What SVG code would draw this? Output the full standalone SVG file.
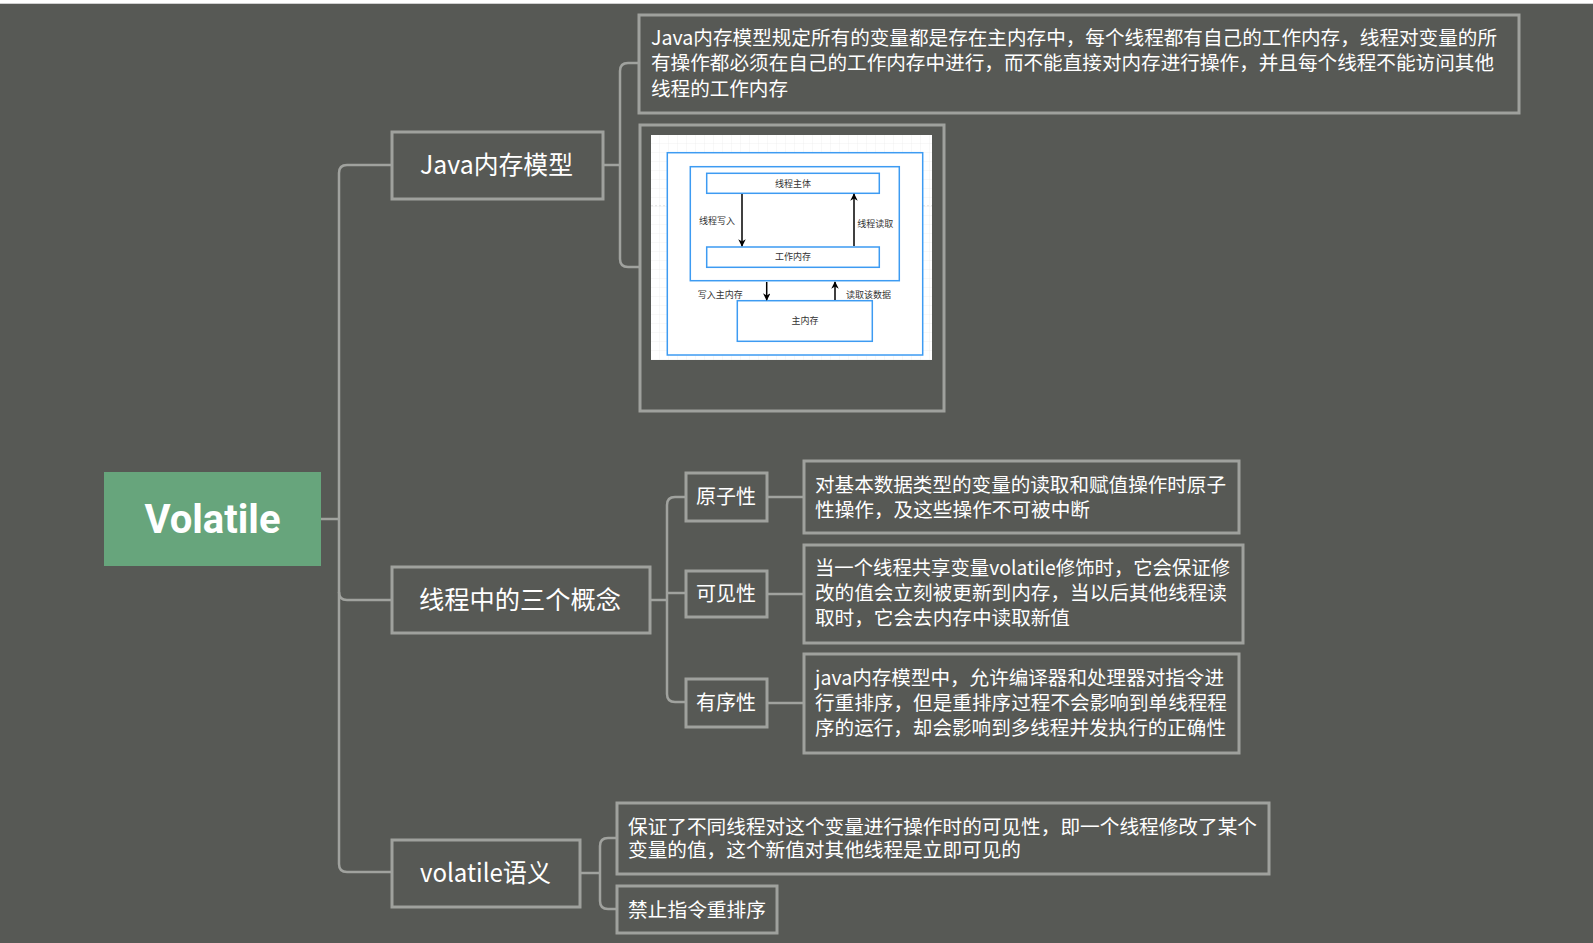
<svg xmlns="http://www.w3.org/2000/svg" width="1593" height="943" viewBox="0 0 1593 943">
<defs>
<style>
.bg{fill:#575955}
.box{fill:none;stroke:#9fa19d;stroke-width:3}
.con{fill:none;stroke:#a0a29e;stroke-width:2.5}
.t{font-family:"Noto Sans CJK SC","Liberation Sans",sans-serif;fill:#ffffff}
.l1{font-size:25px}
.l2{font-size:20px}
.leaf{font-size:19.5px}
.root{font-family:Roboto,"Liberation Sans",sans-serif;font-weight:bold;font-size:40px;fill:#ffffff;text-anchor:middle}
.db{fill:#ffffff;stroke:#3d9bf2;stroke-width:1.5}
.dt{font-family:"Noto Sans CJK SC",sans-serif;font-size:9px;fill:#333333}
.dl{stroke:#000000;stroke-width:1.5;fill:none}
.grid{stroke:#ececec;stroke-width:0.7}
</style>
<marker id="ah" viewBox="0 0 10 10" refX="9" refY="5" markerWidth="5" markerHeight="5" orient="auto">
<path d="M0,0 L10,5 L0,10 L3,5 Z" fill="#000000"/>
</marker>
<pattern id="gp" width="9" height="9" patternUnits="userSpaceOnUse" x="651" y="135">
<path d="M9,0 V9 M0,9 H9" class="grid"/>
</pattern>
</defs>
<rect class="bg" x="0" y="0" width="1593" height="943"/>
<rect x="0" y="0" width="1593" height="3" fill="#ffffff"/>
<rect x="0" y="3" width="1593" height="1" fill="#cfcfcf"/>

<g id="connectors">
<path class="con" d="M321,519 H339"/>
<path class="con" d="M392,165 H347 Q339,165 339,173 V864 Q339,872 347,872 H392"/>
<path class="con" d="M339,592 Q339,600 347,600 H392"/>
<path class="con" d="M603,165 H620"/>
<path class="con" d="M640,63 H628 Q620,63 620,71 V259 Q620,267 628,267 H640"/>
<path class="con" d="M650,600 H667"/>
<path class="con" d="M686,497 H675 Q667,497 667,505 V694 Q667,702 675,702 H686"/>
<path class="con" d="M667,593 H686"/>
<path class="con" d="M767,497 H804"/>
<path class="con" d="M767,594 H804"/>
<path class="con" d="M767,703 H804"/>
<path class="con" d="M580,873 H600"/>
<path class="con" d="M617,838 H608 Q600,838 600,846 V901 Q600,909 608,909 H617"/>
</g>

<g id="root">
<rect x="104" y="472" width="217" height="94" fill="#67a57c"/>
<text class="root" x="212.5" y="533">Volatile</text>
</g>

<g id="java-memory-model">
<rect class="box" x="392" y="132" width="211" height="67"/>
<text class="t l1" x="420" y="174" textLength="153" lengthAdjust="spacingAndGlyphs">Java内存模型</text>
</g>

<g id="jmm-text">
<rect class="box" x="639" y="15" width="880" height="98"/>
<text class="t leaf" x="651" y="44.5" textLength="846" lengthAdjust="spacingAndGlyphs">Java内存模型规定所有的变量都是存在主内存中，每个线程都有自己的工作内存，线程对变量的所</text>
<text class="t leaf" x="651" y="70" textLength="843" lengthAdjust="spacingAndGlyphs">有操作都必须在自己的工作内存中进行，而不能直接对内存进行操作，并且每个线程不能访问其他</text>
<text class="t leaf" x="651" y="95.5" textLength="137" lengthAdjust="spacingAndGlyphs">线程的工作内存</text>
</g>

<g id="jmm-image">
<rect class="box" x="640" y="125" width="304" height="286"/>
<rect x="651" y="135" width="281" height="225" fill="#ffffff"/>
<rect x="651" y="135" width="281" height="225" fill="url(#gp)"/>
<line x1="651" y1="205.7" x2="932" y2="205.7" stroke="#d6d6d6" stroke-width="0.7" stroke-dasharray="2,2"/>
<rect class="db" x="667.3" y="152.7" width="255.4" height="202.3"/>
<rect class="db" x="690.3" y="166.7" width="209" height="114"/>
<rect class="db" x="706.7" y="173.3" width="172.6" height="20"/>
<text class="dt" x="793" y="186.5" text-anchor="middle">线程主体</text>
<rect class="db" x="706.7" y="247" width="172.6" height="20.3"/>
<text class="dt" x="793" y="260.3" text-anchor="middle">工作内存</text>
<rect class="db" x="737.3" y="300.7" width="135" height="40.6"/>
<text class="dt" x="805" y="324" text-anchor="middle">主内存</text>
<line class="dl" x1="742" y1="194" x2="742" y2="246" marker-end="url(#ah)"/>
<text class="dt" x="699" y="224">线程写入</text>
<line class="dl" x1="854" y1="246" x2="854" y2="194" marker-end="url(#ah)"/>
<text class="dt" x="857.3" y="227">线程读取</text>
<line class="dl" x1="766.7" y1="282" x2="766.7" y2="300" marker-end="url(#ah)"/>
<text class="dt" x="697.7" y="297.5">写入主内存</text>
<line class="dl" x1="835" y1="300" x2="835" y2="282" marker-end="url(#ah)"/>
<text class="dt" x="846" y="297.5">读取该数据</text>
</g>

<g id="three-concepts">
<rect class="box" x="392" y="567" width="258" height="66"/>
<text class="t l1" x="419" y="609" textLength="202" lengthAdjust="spacingAndGlyphs">线程中的三个概念</text>
</g>

<g id="atomicity">
<rect class="box" x="686" y="473" width="81" height="48"/>
<text class="t l2" x="696" y="504" textLength="60" lengthAdjust="spacingAndGlyphs">原子性</text>
</g>
<g id="atomicity-text">
<rect class="box" x="804" y="461" width="435" height="72"/>
<text class="t leaf" x="815" y="492" textLength="411" lengthAdjust="spacingAndGlyphs">对基本数据类型的变量的读取和赋值操作时原子</text>
<text class="t leaf" x="815" y="517" textLength="275" lengthAdjust="spacingAndGlyphs">性操作，及这些操作不可被中断</text>
</g>

<g id="visibility">
<rect class="box" x="686" y="571" width="81" height="46"/>
<text class="t l2" x="696" y="601" textLength="60" lengthAdjust="spacingAndGlyphs">可见性</text>
</g>
<g id="visibility-text">
<rect class="box" x="804" y="545" width="439" height="98"/>
<text class="t leaf" x="815" y="575" textLength="415" lengthAdjust="spacingAndGlyphs">当一个线程共享变量volatile修饰时，它会保证修</text>
<text class="t leaf" x="815" y="600" textLength="412" lengthAdjust="spacingAndGlyphs">改的值会立刻被更新到内存，当以后其他线程读</text>
<text class="t leaf" x="815" y="625" textLength="255" lengthAdjust="spacingAndGlyphs">取时，它会去内存中读取新值</text>
</g>

<g id="ordering">
<rect class="box" x="686" y="679" width="81" height="48"/>
<text class="t l2" x="696" y="710" textLength="60" lengthAdjust="spacingAndGlyphs">有序性</text>
</g>
<g id="ordering-text">
<rect class="box" x="804" y="654" width="435" height="99"/>
<text class="t leaf" x="815" y="685" textLength="409" lengthAdjust="spacingAndGlyphs">java内存模型中，允许编译器和处理器对指令进</text>
<text class="t leaf" x="815" y="710" textLength="412" lengthAdjust="spacingAndGlyphs">行重排序，但是重排序过程不会影响到单线程程</text>
<text class="t leaf" x="815" y="735" textLength="411" lengthAdjust="spacingAndGlyphs">序的运行，却会影响到多线程并发执行的正确性</text>
</g>

<g id="volatile-semantics">
<rect class="box" x="392" y="840" width="188" height="67"/>
<text class="t l1" x="420" y="882" textLength="131" lengthAdjust="spacingAndGlyphs">volatile语义</text>
</g>
<g id="semantics-visibility">
<rect class="box" x="617" y="803" width="652" height="71"/>
<text class="t leaf" x="628" y="833.5" textLength="629" lengthAdjust="spacingAndGlyphs">保证了不同线程对这个变量进行操作时的可见性，即一个线程修改了某个</text>
<text class="t leaf" x="628" y="857" textLength="393" lengthAdjust="spacingAndGlyphs">变量的值，这个新值对其他线程是立即可见的</text>
</g>
<g id="semantics-reorder">
<rect class="box" x="617" y="886" width="160" height="47"/>
<text class="t leaf" x="628" y="917" textLength="138" lengthAdjust="spacingAndGlyphs">禁止指令重排序</text>
</g>
</svg>
